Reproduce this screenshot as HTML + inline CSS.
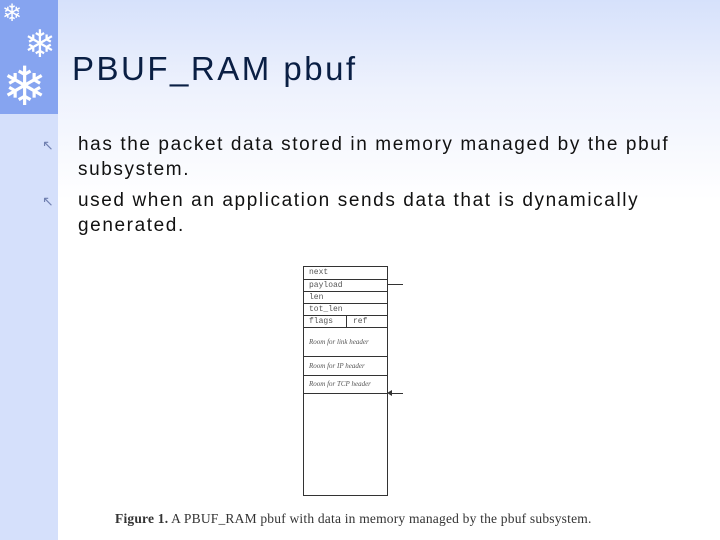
<!DOCTYPE html>
<html><head><style>
body{margin:0}
#p{position:relative;width:720px;height:540px;overflow:hidden;background:linear-gradient(#d6e1fb 0px,#eef2fd 90px,#fff 200px);font-family:"Liberation Sans",sans-serif}
.bar1{position:absolute;left:0;top:0;width:58px;height:114px;background:#86a4f0}
.bar2{position:absolute;left:0;top:114px;width:58px;height:426px;background:#d5e0fb}
.sf{position:absolute;color:#fff;line-height:1}
h1{position:absolute;left:72px;top:50px;margin:0;font-weight:normal;font-size:33px;color:#0a1f44;letter-spacing:2.5px}
.t{position:absolute;left:78px;font-size:19px;color:#111;line-height:25px;letter-spacing:1.6px;white-space:nowrap}
.b{position:absolute;left:42px;font-size:14px;color:#7080b0}
.box{position:absolute;left:303px;top:266px;width:83px;height:228px;border:1px solid #333;background:#fff}
.r{position:absolute;left:0;width:83px;border-bottom:1px solid #333;font-family:"Liberation Mono",monospace;font-size:8px;color:#555;padding-left:5px;box-sizing:border-box;line-height:12px}
.i{font-family:"Liberation Serif",serif;font-style:italic;font-size:7px;line-height:9px}
.ln{position:absolute;height:1px;background:#333}
.cap{position:absolute;left:115px;top:511px;font-family:"Liberation Serif",serif;font-size:13.5px;color:#333;white-space:nowrap;letter-spacing:0.2px}
</style></head><body><div id="p">
<div class="bar1"></div><div class="bar2"></div>
<div class="sf" style="left:2px;top:2px;font-size:24px">❄</div>
<div class="sf" style="left:24px;top:26px;font-size:38px">❄</div>
<div class="sf" style="left:2px;top:60px;font-size:54px">❄</div>
<h1>PBUF_RAM pbuf</h1>
<div class="b" style="top:137px">↖</div>
<div class="b" style="top:193px">↖</div>
<div class="t" style="top:132px">has the packet data stored in memory managed by the pbuf<br>subsystem.</div>
<div class="t" style="top:188px">used when an application sends data that is dynamically<br>generated.</div>
<div class="box">
<div class="r" style="top:0;height:13px">next</div>
<div class="r" style="top:13px;height:12px">payload</div>
<div class="r" style="top:25px;height:12px">len</div>
<div class="r" style="top:37px;height:12px">tot_len</div>
<div class="r" style="top:49px;height:12px">flags<span style="position:absolute;left:42px;top:0;height:12px;border-left:1px solid #333;padding-left:6px">ref</span></div>
<div class="r i" style="top:61px;height:29px;padding-top:10px">Room for link header</div>
<div class="r i" style="top:90px;height:19px;padding-top:5px">Room for IP header</div>
<div class="r i" style="top:109px;height:18px;padding-top:4px">Room for TCP header</div>
</div>
<div class="ln" style="left:387px;top:284px;width:16px"></div>
<div class="ln" style="left:389px;top:393px;width:14px"></div>
<div style="position:absolute;left:387px;top:390px;width:0;height:0;border-top:3px solid transparent;border-bottom:3px solid transparent;border-right:5px solid #333"></div>
<div class="cap"><b>Figure 1.</b> A PBUF_RAM pbuf with data in memory managed by the pbuf subsystem.</div>
</div></body></html>
